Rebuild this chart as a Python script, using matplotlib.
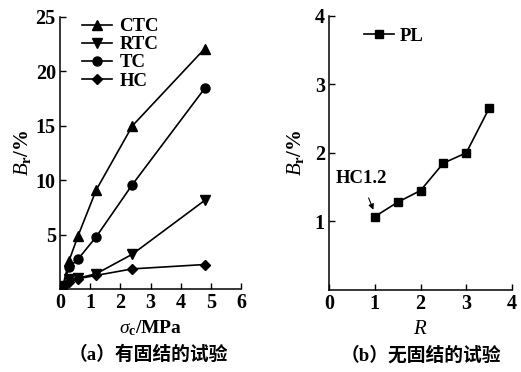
"""
    Residual breakage Br: tests with and without consolidation
"""

import matplotlib
import matplotlib.pyplot as plt

matplotlib.use('agg')

plt.rcParams['font.family'] = ['Liberation Serif', 'Noto Sans CJK SC']
plt.rcParams['font.weight'] = 'bold'
plt.rcParams['mathtext.fontset'] = 'custom'
plt.rcParams['mathtext.rm'] = 'Liberation Serif:weight=bold'
plt.rcParams['mathtext.it'] = 'Liberation Serif:style=italic:weight=normal'
plt.rcParams['mathtext.default'] = 'it'
plt.rcParams['font.size'] = 13.5

# (a) with consolidation
sigmaC = [0.1, 0.3, 0.6, 1.2, 2.4, 4.8]
brCTC = [0.3, 2.6, 4.9, 9.1, 15.0, 22.1]
brRTC = [0.3, 0.9, 1.0, 1.4, 3.2, 8.15]
brTC = [0.3, 2.0, 2.75, 4.8, 9.6, 18.45]
brHC = [0.3, 0.6, 0.95, 1.25, 1.85, 2.25]

# (b) without consolidation
ratioR = [1.0, 1.5, 2.0, 2.5, 3.0, 3.5]
brPL = [1.07, 1.28, 1.45, 1.85, 2.0, 2.65]

fig = plt.figure(figsize=(5.21, 3.72), dpi=100)
axA = fig.add_axes([60/521, 1-289/372, 181/521, 272/372])
axB = fig.add_axes([329/521, 1-290/372, 183/521, 274.3/372])

for ax in (axA, axB):
    ax.spines['top'].set_visible(False)
    ax.spines['right'].set_visible(False)
    ax.spines['left'].set_linewidth(1.1)
    ax.spines['bottom'].set_linewidth(1.1)
    ax.tick_params(direction='in', length=4, width=1, pad=3, labelsize=14.5)

lineKw = dict(color='k', linewidth=1.2, markersize=6.5)
axA.plot(sigmaC, brCTC, marker='^', label='CTC', **lineKw)
axA.plot(sigmaC, brRTC, marker='v', label='RTC', **lineKw)
axA.plot(sigmaC, brTC, marker='o', label='TC', **lineKw)
axA.plot(sigmaC, brHC, marker='D', label='HC', color='k', linewidth=1.2,
         markersize=5)
axA.set_xlim(0, 6)
axA.set_ylim(0, 25)
axA.set_xticks(range(0, 7))
axA.set_yticks([5, 10, 15, 20, 25])
axA.set_xlabel(r'$\sigma_\mathrm{c}/\mathrm{MPa}$', labelpad=4, fontsize=14)
axA.set_ylabel(r'$B_\mathrm{r}/\mathrm{\%}$', labelpad=2, fontsize=15)
axA.legend(loc='upper left', bbox_to_anchor=(0.07, 1.03), frameon=False,
           handlelength=1.6, handletextpad=0.4, labelspacing=0.05,
           borderpad=0)

axB.plot(ratioR, brPL, marker='s', label='PL', color='k', linewidth=1.2,
         markersize=6)
axB.set_xlim(0, 4)
axB.set_ylim(0, 4)
axB.set_xticks(range(0, 5))
axB.set_yticks([1, 2, 3, 4])
axB.set_xlabel(r'$R$', labelpad=4, fontsize=15)
axB.set_ylabel(r'$B_\mathrm{r}/\mathrm{\%}$', labelpad=6, fontsize=15)
axB.legend(loc='upper left', bbox_to_anchor=(0.14, 0.99), frameon=False,
           handlelength=1.6, handletextpad=0.3, borderpad=0)
axB.annotate('HC1.2', xy=(0.97, 1.17), xytext=(0.7, 1.62),
             ha='center', va='center',
             arrowprops=dict(arrowstyle='-|>', color='k', linewidth=0.8,
                             mutation_scale=8, shrinkA=6, shrinkB=0))

fig.text(148/521, 1-355/372, '（a）有固结的试验', ha='center', va='center',
         fontsize=13.5, fontweight='bold')
fig.text(421/521, 1-355/372, '（b）无固结的试验', ha='center', va='center',
         fontsize=13.5, fontweight='bold')

fig.savefig('out.png', dpi=100)
